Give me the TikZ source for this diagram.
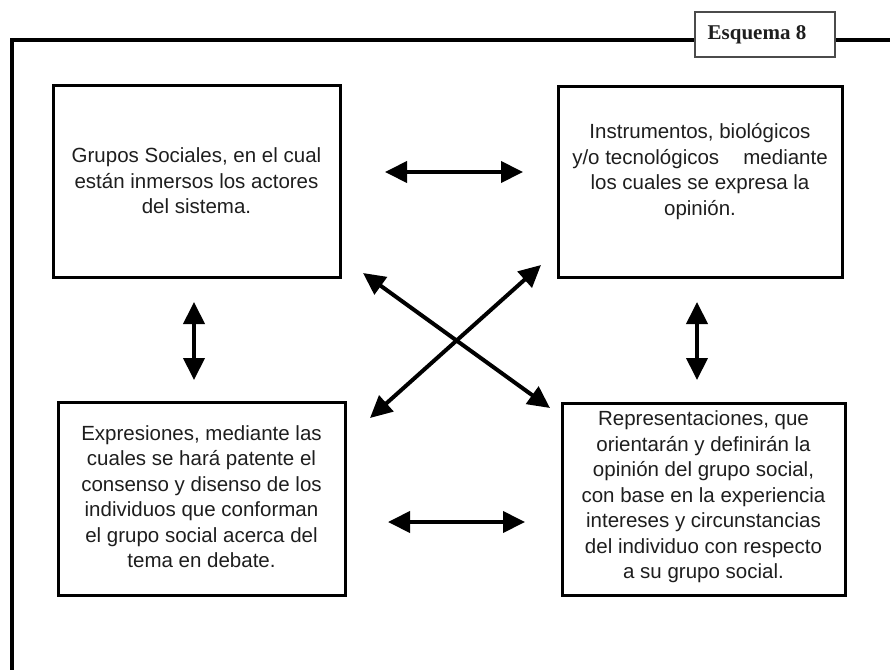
\documentclass[tikz,border=0pt]{standalone}
\usepackage{fontspec}
\setmainfont{Liberation Sans}
\newfontfamily\titlefont{Liberation Serif}
\usetikzlibrary{arrows.meta}
\definecolor{ink}{HTML}{1E1E1E}
\begin{document}
\begin{tikzpicture}[x=1pt,y=-1pt,
  frame/.style={line width=4pt, line cap=rect},
  ideabox/.style={draw, line width=3pt, inner sep=0pt},
  ideatext/.style={align=center, text=ink, inner sep=0pt,
    font=\fontsize{20.5}{25.5}\selectfont},
  titlebox/.style={draw=ink!80, line width=1.3pt, fill=white,
    minimum width=140pt, minimum height=45pt, inner sep=0pt},
  titletext/.style={inner sep=0pt, text=ink,
    font=\titlefont\bfseries\fontsize{21}{24}\selectfont},
  biarrow/.style={line width=4pt, {Triangle[length=22pt,width=21pt]}-{Triangle[length=22pt,width=21pt]}}
]
\useasboundingbox (0,0) rectangle (890,669);

% outer frame: left side and top rule
\coordinate (corner) at (12,40);
\coordinate (frameend) at (892,40);
\coordinate (framefoot) at (12,672);
\draw[frame] (framefoot) -- (corner) -- (frameend);
\node[titlebox] (title) at (765,34.5) {};
\node[titletext, xshift=-8pt] (titlelabel) at (title.center) {Esquema 8};

% the four concept boxes
\node[ideabox, minimum width=287pt, minimum height=192pt] (grupos) at (196.5,181) {};
\node[ideabox, minimum width=284pt, minimum height=191pt] (instr) at (700,181.5) {};
\node[ideabox, minimum width=287pt, minimum height=193pt] (expr) at (201.5,498.5) {};
\node[ideabox, minimum width=283pt, minimum height=192pt] (repr) at (703.5,499) {};

\node[ideatext] (tgrupos) at (grupos.center) {Grupos Sociales, en el cual\\están inmersos los actores\\del sistema.};
\node[ideatext, yshift=10pt] (tinstr) at (instr.center) {Instrumentos, biológicos\\y/o tecnológicos\hspace{0.9em} mediante\\los cuales se expresa la\\opinión.};
\node[ideatext, yshift=2pt] (texpr) at (expr.center) {Expresiones, mediante las\\cuales se hará patente el\\consenso y disenso de los\\individuos que conforman\\el grupo social acerca del\\tema en debate.};
\node[ideatext, yshift=2pt] (trepr) at (repr.center) {Representaciones, que\\orientarán y definirán la\\opinión del grupo social,\\con base en la experiencia\\intereses y circunstancias\\del individuo con respecto\\a su grupo social.};

% arrow end points between the boxes
\coordinate (topL) at (385,172);
\coordinate (topR) at (523,172);
\coordinate (botL) at (388,522);
\coordinate (botR) at (525,522);
\coordinate (leftT) at (194,302);
\coordinate (leftB) at (194,380);
\coordinate (rightT) at (697,302);
\coordinate (rightB) at (697,380);
\coordinate (crossNW) at (363,273);
\coordinate (crossSE) at (550,408);
\coordinate (crossNE) at (541,265);
\coordinate (crossSW) at (370,418);

\draw[biarrow] (topL) -- (topR);
\draw[biarrow] (botL) -- (botR);
\draw[biarrow] (leftT) -- (leftB);
\draw[biarrow] (rightT) -- (rightB);
\draw[biarrow] (crossNW) -- (crossSE);
\draw[biarrow] (crossNE) -- (crossSW);
\end{tikzpicture}
\end{document}
